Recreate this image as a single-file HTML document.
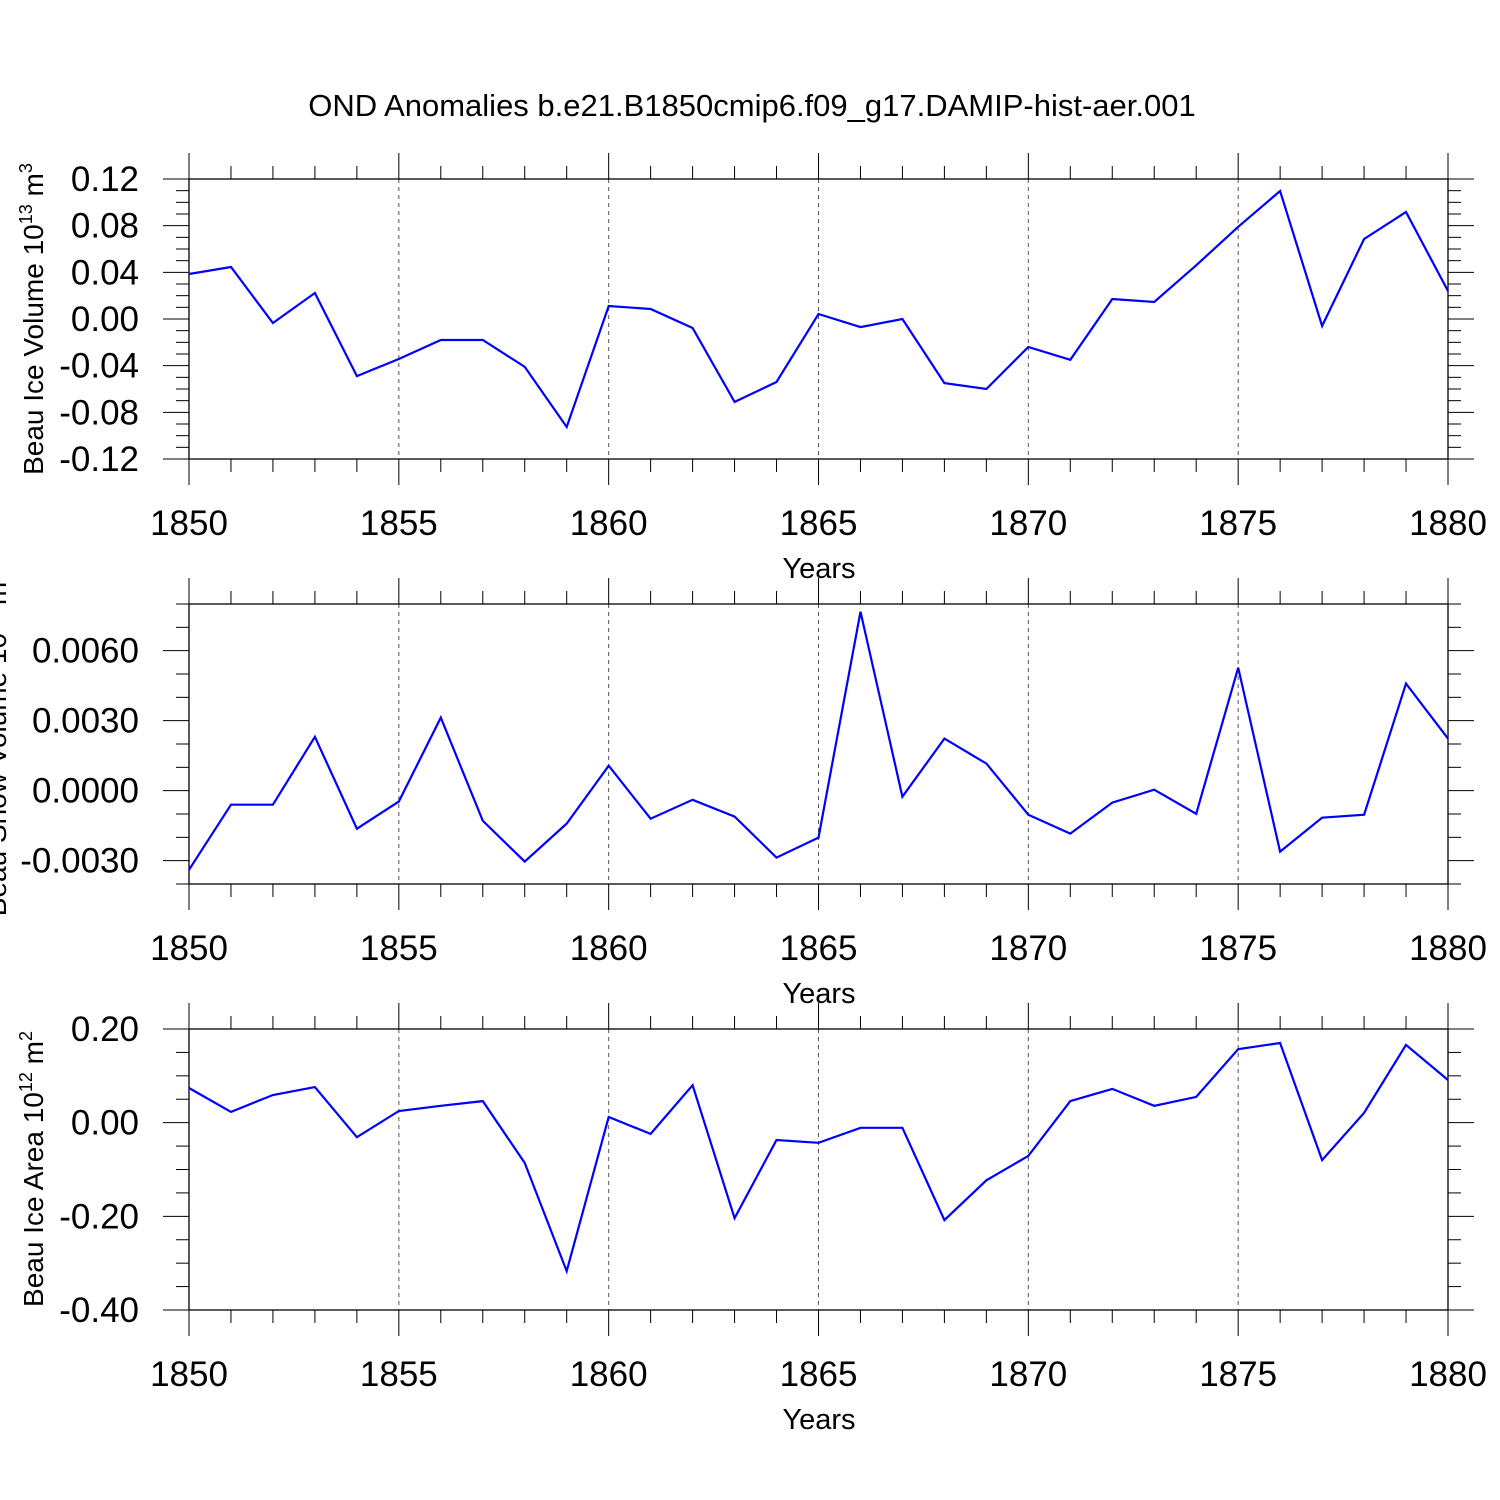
<!DOCTYPE html>
<html><head><meta charset="utf-8"><style>
html,body{margin:0;padding:0;background:#fff;}
svg{display:block;font-family:"Liberation Sans",Arial,sans-serif;}
</style></head><body>
<svg id="chart" width="1500" height="1500" viewBox="0 0 1500 1500">
<rect width="1500" height="1500" fill="#fff"/>
<text x="752" y="116" font-size="31" text-anchor="middle">OND Anomalies b.e21.B1850cmip6.f09_g17.DAMIP-hist-aer.001</text>
</svg>
<script>
const years = [];
for (let y = 1850; y <= 1880; y++) years.push(y);
const iceVolume = [0.0386,0.0446,-0.0034,0.0223,-0.0489,-0.0343,-0.018,-0.018,-0.041,-0.0926,0.0111,0.0086,-0.0077,-0.0711,-0.054,0.0043,-0.0069,0.0,-0.0549,-0.06,-0.024,-0.035,0.0171,0.0146,0.046,0.079,0.1097,-0.006,0.0686,0.0917,0.024];
const snowVolume = [-0.00339,-0.0006,-0.0006,0.00231,-0.00163,-0.00047,0.00313,-0.00129,-0.00304,-0.00141,0.00107,-0.0012,-0.00039,-0.00111,-0.00287,-0.00201,0.00767,-0.00026,0.00223,0.00116,-0.00103,-0.00184,-0.00051,0.00004,-0.00099,0.00527,-0.00261,-0.00116,-0.00103,0.00459,0.00223];
const iceArea = [0.074,0.023,0.059,0.076,-0.031,0.025,0.036,0.046,-0.086,-0.317,0.012,-0.024,0.080,-0.204,-0.037,-0.043,-0.011,-0.011,-0.208,-0.123,-0.071,0.046,0.072,0.036,0.055,0.157,0.170,-0.080,0.021,0.166,0.091];
const volTicks = ["0.12","0.08","0.04","0.00","-0.04","-0.08","-0.12"];
const snowTicks = ["0.0060","0.0030","0.0000","-0.0030"];
const areaTicks = ["0.20","0.00","-0.20","-0.40"];
const yearTicks = ["1850","1855","1860","1865","1870","1875","1880"];

const NS = "http://www.w3.org/2000/svg";
const svg = document.getElementById('chart');
function mk(tag, attrs, parent){const e=document.createElementNS(NS,tag);for(const k in attrs)e.setAttribute(k,attrs[k]);(parent||svg).appendChild(e);return e;}

const X0=189, X1=1448;
function xs(yr){return X0+(yr-1850)/30*(X1-X0);}

const panels=[
 {name:'ice-volume',top:179,bot:459,ymin:-0.12,ymax:0.12,minor:0.01,ticks:volTicks,data:iceVolume,label:'Beau Ice Volume 10',sup:'13',unit:' m',sup2:'3',lx:43,ly:319},
 {name:'snow-volume',top:604,bot:884,ymin:-0.004,ymax:0.008,minor:0.001,ticks:snowTicks,data:snowVolume,label:'Beau Snow Volume 10',sup:'13',unit:' m',sup2:'3',lx:6,ly:744},
 {name:'ice-area',top:1029,bot:1310,ymin:-0.4,ymax:0.2,minor:0.05,ticks:areaTicks,data:iceArea,label:'Beau Ice Area 10',sup:'12',unit:' m',sup2:'2',lx:43,ly:1169}
];

panels.forEach(p=>{
  const g=mk('g',{});
  
  
  const ys=v=>p.bot-(v-p.ymin)/(p.ymax-p.ymin)*(p.bot-p.top);
  for(let yr=1855;yr<=1875;yr+=5){
    const l=mk('line',{x1:xs(yr),x2:xs(yr),y1:p.top,y2:p.bot,stroke:'#555','stroke-width':1,'stroke-dasharray':'4,4'},g);
    
    
  }
  const fr=mk('rect',{x:X0,y:p.top,width:X1-X0,height:p.bot-p.top,fill:'none',stroke:'#000','stroke-width':1.3},g);
  
  
  years.forEach(yr=>{
    const maj=(yr-1850)%5===0, len=maj?26:13, x=xs(yr);
    mk('line',{x1:x,x2:x,y1:p.top-len,y2:p.top,stroke:'#000','stroke-width':1},g);
    mk('line',{x1:x,x2:x,y1:p.bot,y2:p.bot+len,stroke:'#000','stroke-width':1},g);
  });
  yearTicks.forEach(t=>{
    const tx=mk('text',{x:xs(+t),y:p.bot+76,'font-size':35,'text-anchor':'middle'},g);
    tx.textContent=t;
    
    
  });
  const xt=mk('text',{x:819,y:p.bot+119,'font-size':29,'text-anchor':'middle'},g);
  xt.textContent='Years';
  
  
  const n=Math.round((p.ymax-p.ymin)/p.minor);
  const majStep=Math.abs(parseFloat(p.ticks[0])-parseFloat(p.ticks[1]));
  for(let i=0;i<=n;i++){
    const v=p.ymin+i*p.minor, y=ys(v);
    const r=v/majStep, maj=Math.abs(r-Math.round(r))<1e-6;
    const len=maj?26:13;
    mk('line',{x1:X0-len,x2:X0,y1:y,y2:y,stroke:'#000','stroke-width':1},g);
    mk('line',{x1:X1,x2:X1+len,y1:y,y2:y,stroke:'#000','stroke-width':1},g);
  }
  p.ticks.forEach(t=>{
    const tx=mk('text',{x:139,y:ys(parseFloat(t))+12,'font-size':35,'text-anchor':'end'},g);
    tx.textContent=t;
    
    
  });
  const yt=mk('text',{x:0,y:0,'font-size':28,'text-anchor':'middle',transform:`translate(${p.lx},${p.ly}) rotate(-90)`},g);
  
  
  const t1=mk('tspan',{},yt);t1.textContent=p.label;
  const t2=mk('tspan',{dy:-11,'font-size':18},yt);t2.textContent=p.sup;
  const t3=mk('tspan',{dy:11},yt);t3.textContent=p.unit;
  const t4=mk('tspan',{dy:-11,'font-size':18},yt);t4.textContent=p.sup2;
  const pts=p.data.map((v,i)=>xs(years[i]).toFixed(1)+','+ys(v).toFixed(1)).join(' ');
  const pl=mk('polyline',{points:pts,fill:'none',stroke:'#0000ff','stroke-width':2.2,'stroke-linejoin':'miter'},g);
  
  
});
</script>
</body></html>
